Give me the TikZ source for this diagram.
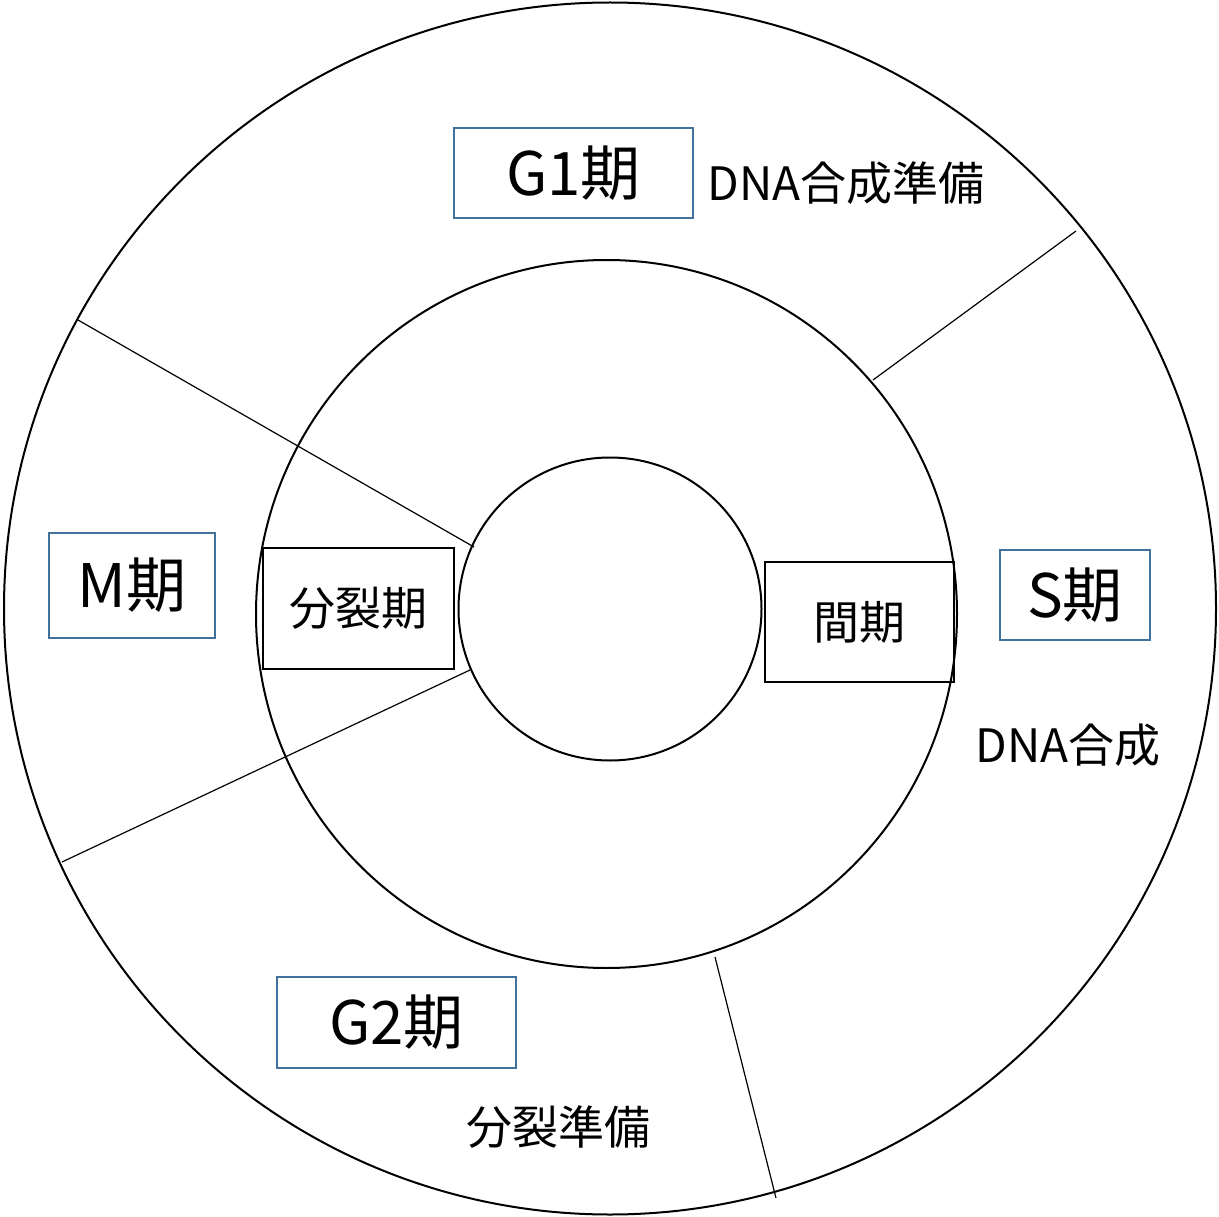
\documentclass[tikz,border=0pt]{standalone}
\usepackage{fontspec}
\usetikzlibrary{shapes.geometric}
\setmainfont{Noto Sans CJK JP}
\definecolor{boxblue}{HTML}{41719C}
\begin{document}
\begin{tikzpicture}[x=1pt,y=-1pt,
  ring/.style={draw,circle,line width=2pt,inner sep=0pt},
  oval/.style={draw,ellipse,line width=2pt,inner sep=0pt},
  divider/.style={line width=1.2pt},
  phasebox/.style={draw=boxblue,line width=2pt,inner sep=0pt,font=\fontsize{60}{60}\selectfont},
  blackbox/.style={draw,line width=2.2pt,inner sep=0pt,font=\fontsize{46}{46}\selectfont},
  lbl/.style={inner sep=0pt,font=\fontsize{46}{46}\selectfont}]
\useasboundingbox (0,0) rectangle (1219,1217);
% circles
\node[ring,minimum size=1212pt] (outer) at (610,608.5) {};
\node[oval,minimum width=701pt,minimum height=708pt] (middle) at (606.5,614) {};
\node[ring,minimum size=303pt] (inner) at (610,609) {};
% divider endpoints
\coordinate (a1) at (1076,231); \coordinate (a2) at (873,380);
\coordinate (b1) at (78,320);   \coordinate (b2) at (474,547);
\coordinate (c1) at (62,862);   \coordinate (c2) at (470,670);
\coordinate (d1) at (715,957);  \coordinate (d2) at (776,1198);
\draw[divider] (a1) -- (a2);
\draw[divider] (b1) -- (b2);
\draw[divider] (c1) -- (c2);
\draw[divider] (d1) -- (d2);
% phase boxes
\node[phasebox,minimum width=239pt,minimum height=90pt] (g1) at (573.5,173) {G1期};
\node[phasebox,minimum width=166pt,minimum height=105pt] (m) at (132,585.5) {M期};
\node[phasebox,minimum width=150pt,minimum height=90pt] (s) at (1075,595) {S期};
\node[phasebox,minimum width=239pt,minimum height=91pt] (g2) at (396.5,1022.5) {G2期};
% inner boxes
\node[blackbox,minimum width=191pt,minimum height=121pt] (bunretsu) at (358.5,608.5) {分裂期};
\node[blackbox,minimum width=189pt,minimum height=120pt] (kanki) at (859.5,622) {間期};
% labels
\node[lbl] (l1) at (846,183) {DNA合成準備};
\node[lbl] (l2) at (1068,745) {DNA合成};
\node[lbl] (l3) at (558,1127) {分裂準備};
\end{tikzpicture}
\end{document}
